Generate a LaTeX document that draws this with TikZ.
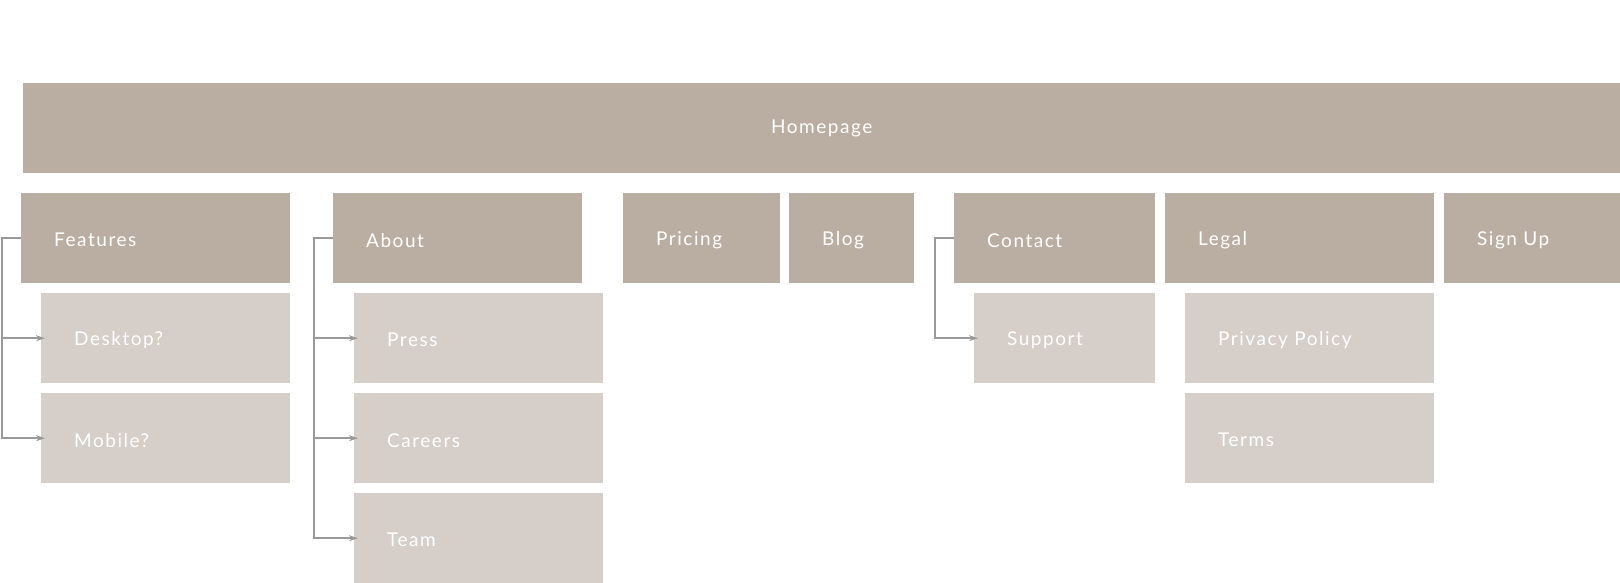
\documentclass[tikz,border=0pt]{standalone}
\usepackage{fontspec}
\setmainfont[LetterSpace=8]{Lato}
\usepackage{xcolor}
\usetikzlibrary{positioning,arrows.meta}
\definecolor{topbrown}{HTML}{BAAEA2}
\definecolor{subbrown}{HTML}{D6CEC8}
\definecolor{linkgray}{HTML}{999999}

\begin{document}
\begin{tikzpicture}[x=1pt, y=-1pt,
    page/.style={rectangle, fill=topbrown, anchor=north west, inner sep=0pt, minimum height=90pt, text=white, font=\fontsize{19}{22}\selectfont},
    subpage/.style={page, fill=subbrown},
    label/.style={anchor=west, text=white, font=\fontsize{19}{22}\selectfont, inner sep=0pt},
    link/.style={-{Stealth[length=9pt, width=6pt]}, line width=2.5pt, linkgray},
]
\useasboundingbox (0,0) rectangle (1620,583);

% === TOP LEVEL ===
\node[page, minimum width=1597pt] (home) at (23, 83) {Homepage};

% === SECOND LEVEL ===
\node[page, minimum width=269pt] (feat) at (21, 193) {};
\node[page, minimum width=249pt] (about) at (333, 193) {};
\node[page, minimum width=157pt] (price) at (623, 193) {};
\node[page, minimum width=125pt] (blog) at (789, 193) {};
\node[page, minimum width=201pt] (contact) at (954, 193) {};
\node[page, minimum width=269pt] (legal) at (1165, 193) {};
\node[page, minimum width=176pt] (signup) at (1444, 193) {};

% === THIRD LEVEL ===
\node[subpage, minimum width=249pt] (desk) at (41, 293) {};
\node[subpage, minimum width=249pt] (mob) at (41, 393) {};
\node[subpage, minimum width=249pt] (press) at (354, 293) {};
\node[subpage, minimum width=249pt] (career) at (354, 393) {};
\node[subpage, minimum width=249pt] (team) at (354, 493) {};
\node[subpage, minimum width=181pt] (support) at (974, 293) {};
\node[subpage, minimum width=249pt] (privacy) at (1185, 293) {};
\node[subpage, minimum width=249pt] (terms) at (1185, 393) {};

% --- labels ---
\foreach \n/\t in {feat/Features, about/About, price/Pricing, blog/Blog, contact/Contact, legal/Legal, signup/Sign Up,
                   desk/Desktop?, mob/Mobile?, press/Press, career/Careers, team/Team, support/Support,
                   privacy/Privacy Policy, terms/Terms}
    \node[label] at ([xshift=33pt, yshift=-2pt]\n.west) {\t};

% --- connectors ---
\foreach \p/\c in {feat/desk, feat/mob, about/press, about/career, about/team, contact/support}
    \draw[link] (\p.west) -- ++(-19pt,0) |- ([xshift=4pt]\c.west);

\end{tikzpicture}
\end{document}
